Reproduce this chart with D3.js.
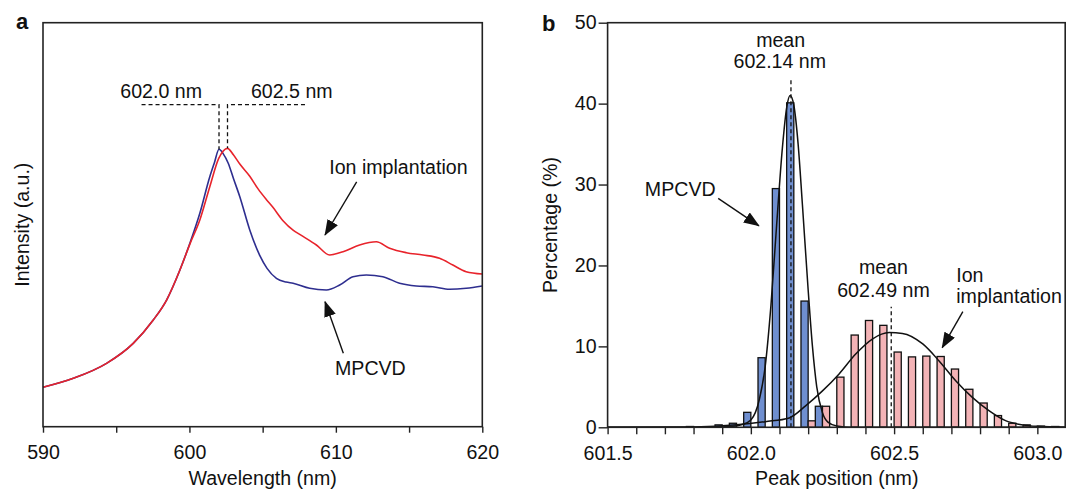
<!DOCTYPE html>
<html>
<head>
<meta charset="utf-8">
<script src="https://cdn.jsdelivr.net/npm/d3@7"></script>
<style>
  body { margin: 0; background: #fff; }
  svg text { font-family: "Liberation Sans", Arial, sans-serif; font-size: 19.6px; fill: #111; }
  .panel-label { font-weight: bold; font-size: 22px; }
</style>
</head>
<body>
<svg id="chart" width="1067" height="491"></svg>
<script>
// ---- panel a: PL spectra (intensity in a.u. 0-100)
const mpcvdWl  = [590, 592.07, 594.34, 596.16, 597.53, 598.44, 599.35, 600.03, 600.71, 601.39, 601.7, 602.02,
                  602.3, 602.65, 603.0, 603.44, 604.12, 604.8, 605.3, 605.94, 606.6, 607.08, 608.21, 609.35,
                  610.26, 611.17, 612.08, 613.21, 614.35, 615.49, 616.62, 617.76, 618.9, 620];
const mpcvdInt = [9.75, 11.98, 15.69, 20.64, 26.41, 31.36, 38.79, 45.4, 52.82, 61.88, 65.3, 68.66,
                  67.6, 65.2, 61.5, 56.93, 48.69, 42.4, 39.2, 36.73, 35.8, 35.5, 34.26, 33.84,
                  35.07, 37.13, 37.55, 37.13, 35.5, 34.83, 34.65, 34.01, 34.26, 34.83];
const ionWl    = [590, 592.07, 594.34, 596.16, 597.53, 598.44, 599.35, 600.03, 600.71, 601.39, 602.0, 602.6,
                  603.0, 603.44, 604.12, 604.7, 605.26, 605.7, 606.39, 607.1, 607.53, 608.67, 609.58, 610.49, 611.62,
                  612.76, 613.67, 614.81, 615.95, 617.08, 617.99, 618.9, 620];
const ionInt   = [9.75, 11.98, 15.69, 20.64, 26.41, 31.36, 38.79, 45.2, 51.16, 59.41, 66.4, 68.9,
                  67.3, 65.0, 62.0, 58.8, 56.2, 54.3, 51.0, 48.6, 47.6, 44.98, 42.5, 43.32, 44.98,
                  45.79, 44.16, 43.07, 42.5, 41.68, 40.02, 38.37, 37.8];
const peakMarks = [602.02, 602.6];
const wlTicks = [590, 595, 600, 605, 610, 615, 620];

// ---- panel b: peak position histogram (%), bins 0.05 nm
const binCenters = [601.8, 601.85, 601.9, 601.95, 602.0, 602.05, 602.1, 602.15, 602.2, 602.25, 602.3, 602.35, 602.4,
                    602.45, 602.5, 602.55, 602.6, 602.65, 602.7, 602.75, 602.8, 602.85, 602.9, 602.95, 603.0, 603.05];
const mpcvdPct   = [0.1, 0, 0.3, 0.5, 1.85, 8.6, 29.5, 40.1, 15.6, 2.6, 0, 0, 0,
                    0, 0, 0, 0, 0, 0, 0, 0, 0, 0, 0, 0, 0];
const ionPct     = [0, 0, 0, 0, 0, 0, 0, 0, 0.8, 2.6, 6.2, 11.4, 13.2,
                    12.6, 9.3, 8.7, 8.8, 8.75, 7.2, 4.7, 3.0, 1.45, 0.5, 0.3, 0.15, 0.1];
const binWidth = 0.05;

// Gaussian fit curves
const mpcvdFitX = [601.5, 601.85, 601.93, 601.97, 602.0, 602.03, 602.05, 602.07, 602.09, 602.11, 602.125, 602.137,
                   602.15, 602.165, 602.18, 602.2, 602.215, 602.23, 602.25, 602.27, 602.3, 602.35, 603.1];
const mpcvdFitY = [0, 0, 0.1, 0.35, 0.9, 3.5, 7.5, 15, 25, 34.5, 39.5, 41,
                   39.8, 35, 27.5, 17, 10, 5, 1.8, 0.6, 0.15, 0, 0];
const ionFitX = [601.5, 601.8, 601.95, 602.05, 602.134, 602.192, 602.25, 602.308, 602.366, 602.424, 602.483,
                 602.529, 602.6, 602.657, 602.715, 602.773, 602.831, 602.889, 602.948, 603.0, 603.1];
const ionFitY = [0, 0.05, 0.3, 0.7, 1.16, 2.68, 4.5, 6.6, 9.05, 10.9, 11.7,
                 11.6, 10.3, 8.2, 5.76, 3.7, 2.06, 0.82, 0.3, 0.12, 0.02];
const meanValues = [602.14, 602.49];
const peakTicks = [601.5, 601.6, 601.7, 601.8, 601.9, 602.0, 602.1, 602.2, 602.3, 602.4, 602.5,
                   602.6, 602.7, 602.8, 602.9, 603.0];
const pctTicks = [0, 10, 20, 30, 40, 50];

const svg = d3.select('#chart');

// arrow head marker
svg.append('defs').append('marker')
    .attr('id', 'arrow')
    .attr('markerUnits', 'userSpaceOnUse')
    .attr('viewBox', '0 0 16 12')
    .attr('markerWidth', 16)
    .attr('markerHeight', 12)
    .attr('refX', 15)
    .attr('refY', 6)
    .attr('orient', 'auto')
    .append('path')
    .attr('d', 'M0,0 L16,6 L0,12 Z')
    .attr('fill', '#111');

function arrow(g, x1, y1, x2, y2) {
    g.append('line')
        .attr('x1', x1).attr('y1', y1).attr('x2', x2).attr('y2', y2)
        .attr('stroke', '#111').attr('stroke-width', 1.4)
        .attr('marker-end', 'url(#arrow)');
}

function frame(g, x0, y0, x1, y1) {
    g.append('rect')
        .attr('x', x0).attr('y', y0)
        .attr('width', x1 - x0).attr('height', y1 - y0)
        .attr('fill', 'none').attr('stroke', '#222').attr('stroke-width', 1.6);
}

// ================= panel a =================
const gA = svg.append('g');
const xA = d3.scaleLinear().domain([590, 620]).range([43, 482.3]);
const yA = d3.scaleLinear().domain([0, 100]).range([426.7, 22.7]);

const lineA = (xs, ys) => d3.line()
    .x((d, i) => xA(xs[i]))
    .y(d => yA(d))
    .curve(d3.curveMonotoneX)(ys);

gA.append('path').attr('d', lineA(mpcvdWl, mpcvdInt))
    .attr('fill', 'none').attr('stroke', '#2e2e8f').attr('stroke-width', 1.6);
gA.append('path').attr('d', lineA(ionWl, ionInt))
    .attr('fill', 'none').attr('stroke', '#e8232b').attr('stroke-width', 1.6);

const axA = gA.append('g')
    .attr('transform', `translate(0,${yA(0)})`)
    .call(d3.axisBottom(xA).tickValues(wlTicks).tickSize(6)
        .tickFormat(d => d % 10 === 0 ? d : ''));
axA.select('.domain').remove();
axA.selectAll('line').attr('stroke', '#222').attr('stroke-width', 1.4);
axA.selectAll('text').attr('y', 18.5).attr('font-size', null).attr('font-family', null);

frame(gA, xA.range()[0], yA.range()[1], xA.range()[1], yA.range()[0]);

gA.append('text').attr('x', (xA.range()[0] + xA.range()[1]) / 2).attr('y', 485)
    .attr('text-anchor', 'middle').text('Wavelength (nm)');
gA.append('text')
    .attr('transform', `translate(29,${(yA.range()[0] + yA.range()[1]) / 2}) rotate(-90)`)
    .attr('text-anchor', 'middle').text('Intensity (a.u.)');
gA.append('text').attr('class', 'panel-label').attr('x', 16).attr('y', 29).text('a');

// peak position markers
const dashA = {stroke: '#111', 'stroke-width': 1.3, 'stroke-dasharray': '4,3', fill: 'none'};
const markLevel = 79.7;
const peakLevel = [68.66, 68.9];
const markLines = [
    [[596.73, markLevel], [peakMarks[0], markLevel], [peakMarks[0], peakLevel[0]]],
    [[607.89, markLevel], [peakMarks[1], markLevel], [peakMarks[1], peakLevel[1]]]
];
markLines.forEach(pts => {
    const p = gA.append('path')
        .attr('d', d3.line().x(d => xA(d[0])).y(d => yA(d[1]))(pts));
    Object.entries(dashA).forEach(([k, v]) => p.attr(k, v));
});
gA.append('text').attr('x', xA(600.86)).attr('y', yA(81.36))
    .attr('text-anchor', 'end').text('602.0 nm');
gA.append('text').attr('x', xA(604.2)).attr('y', yA(81.36)).text('602.5 nm');

gA.append('text').attr('x', xA(609.55)).attr('y', yA(62.55)).text('Ion implantation');
arrow(gA, xA(611.42), yA(60.6), xA(609.26), yA(47.45));
gA.append('text').attr('x', xA(609.94)).attr('y', yA(12.8)).text('MPCVD');
arrow(gA, xA(610.51), yA(18.17), xA(609.26), yA(30.94));

// ================= panel b =================
const gB = svg.append('g');
const xB = d3.scaleLinear().domain([601.5, 603.1]).range([607.6, 1066]);
const yB = d3.scaleLinear().domain([0, 50]).range([427.3, 22.7]);

const bins = binCenters.map((c, i) => ({c, mpcvd: mpcvdPct[i], ion: ionPct[i]}));

gB.selectAll('rect.mpcvd')
    .data(bins.filter(d => d.mpcvd > 0))
    .enter().append('rect')
    .attr('class', 'mpcvd')
    .attr('x', d => xB(d.c - binWidth / 2))
    .attr('width', d => xB(d.c) - xB(d.c - binWidth / 2))
    .attr('y', d => yB(d.mpcvd))
    .attr('height', d => yB(0) - yB(d.mpcvd))
    .attr('fill', '#6f8fd0').attr('stroke', '#111').attr('stroke-width', 1.3);

gB.selectAll('rect.ion')
    .data(bins.filter(d => d.ion > 0))
    .enter().append('rect')
    .attr('class', 'ion')
    .attr('x', d => xB(d.c))
    .attr('width', d => xB(d.c + binWidth / 2) - xB(d.c))
    .attr('y', d => yB(d.ion))
    .attr('height', d => yB(0) - yB(d.ion))
    .attr('fill', '#f3b3b6').attr('stroke', '#111').attr('stroke-width', 1.3);

const lineB = (xs, ys) => d3.line()
    .x((d, i) => xB(xs[i]))
    .y(d => yB(d))
    .curve(d3.curveMonotoneX)(ys);

gB.append('path').attr('d', lineB(mpcvdFitX, mpcvdFitY))
    .attr('fill', 'none').attr('stroke', '#111').attr('stroke-width', 1.5);
gB.append('path').attr('d', lineB(ionFitX, ionFitY))
    .attr('fill', 'none').attr('stroke', '#111').attr('stroke-width', 1.5);

// mean markers
const meanTops = [42.9, 14.9];
meanValues.forEach((m, i) => {
    gB.append('line')
        .attr('x1', xB(m)).attr('x2', xB(m))
        .attr('y1', yB(0)).attr('y2', yB(meanTops[i]))
        .attr('stroke', '#111').attr('stroke-width', 1.3).attr('stroke-dasharray', '4,3');
});

const axBx = gB.append('g')
    .attr('transform', `translate(0,${yB(0)})`)
    .call(d3.axisBottom(xB).tickValues(peakTicks).tickSize(7)
        .tickFormat(d => Math.abs(d * 2 - Math.round(d * 2)) < 1e-6 ? d.toFixed(1) : ''));
axBx.select('.domain').remove();
axBx.selectAll('line').attr('stroke', '#222').attr('stroke-width', 1.4);
axBx.selectAll('text').attr('y', 18.5).attr('font-size', null).attr('font-family', null);

const axBy = gB.append('g')
    .attr('transform', `translate(${xB(601.5)},0)`)
    .call(d3.axisLeft(yB).tickValues(pctTicks).tickSize(9).tickPadding(2));
axBy.select('.domain').remove();
axBy.selectAll('line').attr('stroke', '#222').attr('stroke-width', 1.4);
axBy.selectAll('text').attr('font-size', null).attr('font-family', null);

frame(gB, xB.range()[0], yB.range()[1], xB.range()[1] - 0.8, yB.range()[0]);

gB.append('text').attr('x', (xB.range()[0] + xB.range()[1]) / 2).attr('y', 485)
    .attr('text-anchor', 'middle').text('Peak position (nm)');
gB.append('text')
    .attr('transform', `translate(557,${(yB.range()[0] + yB.range()[1]) / 2}) rotate(-90)`)
    .attr('text-anchor', 'middle').text('Percentage (%)');
gB.append('text').attr('class', 'panel-label').attr('x', 542).attr('y', 31).text('b');

gB.append('text').attr('x', xB(602.104)).attr('y', yB(47.0)).attr('text-anchor', 'middle').text('mean');
gB.append('text').attr('x', xB(602.101)).attr('y', yB(44.4)).attr('text-anchor', 'middle').text('602.14 nm');
gB.append('text').attr('x', xB(602.463)).attr('y', yB(18.95)).attr('text-anchor', 'middle').text('mean');
gB.append('text').attr('x', xB(602.463)).attr('y', yB(16.15)).attr('text-anchor', 'middle').text('602.49 nm');

gB.append('text').attr('x', xB(601.63)).attr('y', yB(28.6)).text('MPCVD');
arrow(gB, xB(601.886), yB(28.3), xB(602.028), yB(24.9));
gB.append('text').attr('x', xB(602.717)).attr('y', yB(18.0)).text('Ion');
gB.append('text').attr('x', xB(602.717)).attr('y', yB(15.4)).text('implantation');
arrow(gB, xB(602.74), yB(14.29), xB(602.668), yB(9.84));
</script>
</body>
</html>
